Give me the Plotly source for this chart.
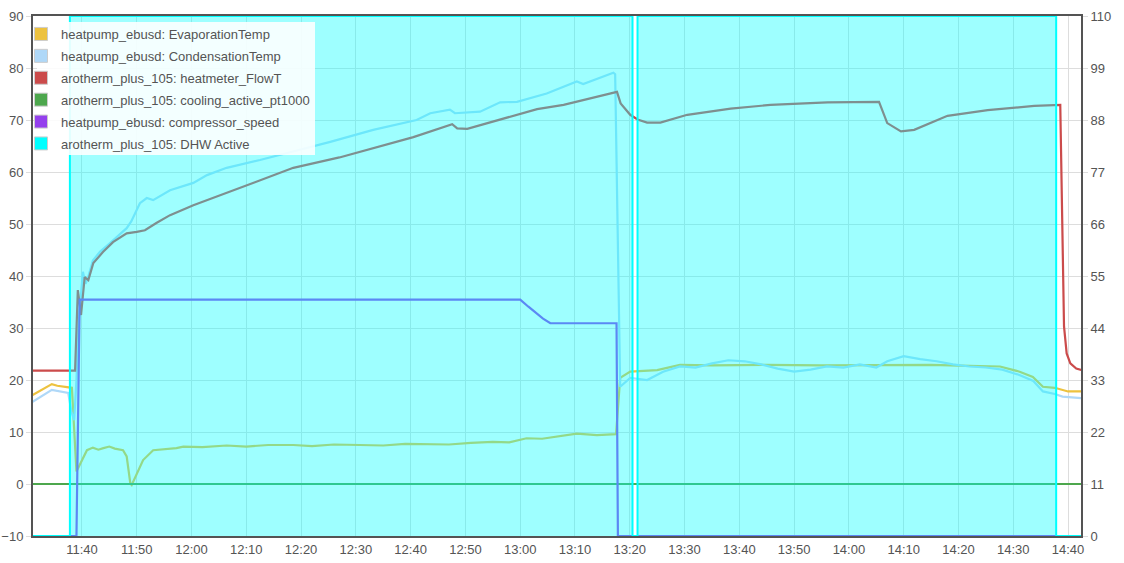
import plotly.graph_objects as go

DAY = "2024-01-01 "

# ---- data ----
evap_t = ["11:31:00", "11:33:00", "11:34:30", "11:35:30", "11:37:30", "11:38:10", "11:39:00", "11:40:00",
          "11:40:55", "11:42:00", "11:43:00", "11:43:55", "11:45:00", "11:46:00", "11:47:30", "11:48:10",
          "11:48:50", "11:49:05", "11:50:00", "11:51:10", "11:53:00", "11:55:00", "11:57:15", "11:58:30",
          "12:02:00", "12:06:25", "12:10:00", "12:14:00", "12:18:35", "12:22:00", "12:26:00", "12:30:40",
          "12:35:00", "12:39:00", "12:43:00", "12:47:00", "12:51:00", "12:55:00", "12:58:00", "13:01:10",
          "13:04:00", "13:07:20", "13:10:20", "13:14:00", "13:17:30", "13:18:15", "13:20:05", "13:25:00",
          "13:29:10", "13:35:00", "13:45:00", "13:55:00", "14:05:00", "14:15:00", "14:22:00", "14:27:35",
          "14:31:10", "14:33:35", "14:35:25", "14:37:35", "14:40:00", "14:42:30"]
evap_v = [17.1, 18.3, 19.2, 18.9, 18.7, 18.5, 2.4, 4.6,
          6.5, 7.0, 6.6, 6.9, 7.2, 6.8, 6.5, 5.3,
          0.1, -0.2, 2.0, 4.6, 6.5, 6.7, 6.9, 7.2,
          7.1, 7.4, 7.2, 7.5, 7.5, 7.3, 7.6, 7.5,
          7.4, 7.7, 7.7, 7.6, 7.9, 8.1, 8.0, 8.8,
          8.7, 9.2, 9.7, 9.4, 9.6, 20.4, 21.6, 21.9,
          22.9, 22.8, 22.9, 22.8, 22.9, 22.9, 22.7, 22.6,
          21.6, 20.6, 18.7, 18.5, 17.8, 17.8]

cond_t = ["11:31:00", "11:34:30", "11:37:30", "11:38:05", "11:38:35", "11:39:00", "11:39:20", "11:39:45",
          "11:40:10", "11:40:40", "11:41:05", "11:42:00", "11:43:20", "11:45:05", "11:48:10", "11:49:00",
          "11:50:35", "11:51:50", "11:53:00", "11:56:05", "12:00:20", "12:02:50", "12:06:25", "12:12:30",
          "12:18:35", "12:25:20", "12:33:10", "12:41:05", "12:43:35", "12:47:10", "12:48:05", "12:52:40",
          "12:56:20", "12:59:25", "13:04:50", "13:10:20", "13:11:30", "13:17:00", "13:17:20", "13:18:15",
          "13:20:05", "13:23:10", "13:26:05", "13:29:10", "13:32:00", "13:35:00", "13:38:00", "13:41:00",
          "13:44:00", "13:47:00", "13:50:00", "13:53:00", "13:56:00", "13:59:00", "14:02:00", "14:05:00",
          "14:07:00", "14:10:00", "14:13:00", "14:16:00", "14:19:00", "14:22:00", "14:25:00", "14:28:00",
          "14:31:00", "14:33:40", "14:35:25", "14:37:35", "14:39:00", "14:42:30"]
cond_v = [15.8, 18.1, 17.5, 13.9, 12.3, 20.0, 30.0, 36.0,
          40.8, 38.5, 39.6, 43.0, 44.7, 46.3, 49.2, 50.5,
          54.0, 55.0, 54.6, 56.5, 57.9, 59.4, 60.8, 62.3,
          63.9, 65.8, 68.1, 70.0, 71.3, 72.0, 71.3, 71.6,
          73.4, 73.5, 75.1, 77.4, 76.9, 79.1, 78.8, 18.7,
          20.4, 20.0, 21.6, 22.6, 22.4, 23.2, 23.8, 23.6,
          23.0, 22.2, 21.6, 22.0, 22.6, 22.4, 23.0, 22.4,
          23.6, 24.6, 24.0, 23.6, 23.0, 22.6, 22.4, 22.0,
          21.0, 19.8, 17.8, 17.3, 16.8, 16.5]

flow_t = ["11:31:00", "11:38:45", "11:39:15", "11:39:50", "11:40:30", "11:41:10", "11:42:05", "11:43:00",
          "11:43:50", "11:45:40", "11:48:10", "11:50:00", "11:51:30", "11:53:35", "11:56:05", "12:00:20",
          "12:06:25", "12:12:30", "12:18:35", "12:27:00", "12:40:30", "12:47:35", "12:48:30", "12:50:20",
          "12:55:50", "13:03:05", "13:07:55", "13:17:40", "13:18:20", "13:20:05", "13:21:25", "13:23:10",
          "13:25:35", "13:30:30", "13:38:25", "13:45:40", "13:56:05", "14:05:30", "14:07:00", "14:09:30",
          "14:11:55", "14:18:00", "14:25:20", "14:33:50", "14:38:35", "14:39:00", "14:39:16", "14:39:45",
          "14:40:25", "14:41:30", "14:42:30"]
flow_v = [21.8, 21.8, 37.3, 32.5, 39.8, 39.2, 42.5, 43.7,
          44.6, 46.5, 48.2, 48.5, 48.8, 50.2, 51.7, 53.6,
          56.0, 58.5, 60.8, 62.8, 66.7, 69.2, 68.4, 68.3,
          70.0, 72.1, 72.9, 75.4, 73.2, 71.0, 70.1, 69.5,
          69.5, 71.0, 72.2, 72.9, 73.4, 73.5, 69.4, 67.8,
          68.1, 70.8, 71.9, 72.7, 72.9, 45.0, 30.3, 25.1,
          23.2, 22.2, 21.9]

cool_t = ["11:31:00", "14:42:30"]
cool_v = [0, 0]

comp_t = ["11:31:00", "11:39:00", "11:39:35", "13:00:00", "13:01:30", "13:03:00", "13:04:10", "13:05:30",
          "13:17:35", "13:17:50", "14:42:30"]
comp_v = [0, 0, 50, 50, 48.5, 47, 46, 45,
          45, 0, 0]

dhw_t = ["11:31:00", "11:37:48", "13:20:30", "13:21:25", "14:37:50", "14:42:30"]
dhw_v = [0, 1, 0, 1, 0, 0]

names = ["heatpump_ebusd: EvaporationTemp", "heatpump_ebusd: CondensationTemp",
         "arotherm_plus_105: heatmeter_FlowT", "arotherm_plus_105: cooling_active_pt1000",
         "heatpump_ebusd: compressor_speed", "arotherm_plus_105: DHW Active"]
colors = ["#edc240", "#afd8f8", "#cb4b4b", "#4da74d", "#9440ed", "#00ffff"]


def ts(lst):
    return [DAY + t for t in lst]


fig = go.Figure()
series = [(evap_t, evap_v, "y"), (cond_t, cond_v, "y"), (flow_t, flow_v, "y"),
          (cool_t, cool_v, "y"), (comp_t, comp_v, "y2")]
for (t, v, ax), nm, c in zip(series, names, colors):
    fig.add_trace(go.Scatter(x=ts(t), y=v, name=nm, mode="lines", yaxis=ax,
                             line=dict(color=c, width=2.2), showlegend=False, hoverinfo="skip"))

fig.add_trace(go.Scatter(x=ts(dhw_t), y=dhw_v, name=names[5], mode="lines", yaxis="y3",
                         line=dict(color=colors[5], width=2, shape="hv"),
                         fill="tozeroy", fillcolor="rgba(0,255,255,0.38)",
                         showlegend=False, hoverinfo="skip"))

# legend entries as coloured boxes
for i, (nm, c) in enumerate(zip(names, colors)):
    fig.add_trace(go.Scatter(x=[None], y=[None], name=nm, mode="markers",
                             marker=dict(symbol="square", size=13, color=c,
                                         line=dict(color="#cccccc", width=1)),
                             legendgroup=f"g{i}"))

L, R, T, B = 33, 43, 16, 27
W, H = 1124, 563
pw, ph = W - L - R, H - T - B

axfont = dict(family="Liberation Sans, Arial, sans-serif", size=13, color="#545454")

fig.update_layout(
    width=W, height=H,
    margin=dict(l=L, r=R, t=T, b=B, autoexpand=False),
    paper_bgcolor="white", plot_bgcolor="white",
    font=axfont,
    xaxis=dict(type="date", range=[DAY + "11:31:04", DAY + "14:42:22"],
               dtick=600000, tickformat="%H:%M", tick0=DAY + "11:40:00",
               showgrid=True, gridcolor="#dddddd", gridwidth=1,
               showline=True, linecolor="#545454", linewidth=2, mirror=True,
               ticks="", tickfont=axfont, zeroline=False, automargin=False),
    yaxis=dict(range=[-10, 90], dtick=10, tick0=0, showgrid=True, gridcolor="#dddddd",
               showline=True, linecolor="#545454", linewidth=2, zeroline=False,
               ticks="outside", ticklen=5, tickcolor="#dddddd", tickfont=axfont, automargin=False),
    yaxis2=dict(range=[0, 110], dtick=11, tick0=0, overlaying="y", side="right",
                showgrid=False, showline=True, linecolor="#545454", linewidth=2, zeroline=False,
                ticks="outside", ticklen=5, tickcolor="#dddddd", tickfont=axfont, automargin=False),
    yaxis3=dict(range=[0, 1], overlaying="y", visible=False, fixedrange=True),
    legend=dict(x=(21 - L) / pw, y=1 - (19 - T) / ph, xanchor="left", yanchor="top",
                bgcolor="rgba(0,0,0,0)", borderwidth=0, tracegroupgap=2,
                font=dict(family="Liberation Sans, Arial, sans-serif", size=13, color="#545454"),
                itemwidth=30),
    shapes=[dict(type="rect", xref="paper", yref="paper", layer="above",
                 x0=(37 - L) / pw, x1=(315 - L) / pw,
                 y0=1 - (155 - T) / ph, y1=1 - (22 - T) / ph,
                 fillcolor="rgba(255,255,255,0.88)", line=dict(width=0))],
)

fig.write_html("out.html", config={"displayModeBar": False},
               post_script="document.body.style.margin='0';")
